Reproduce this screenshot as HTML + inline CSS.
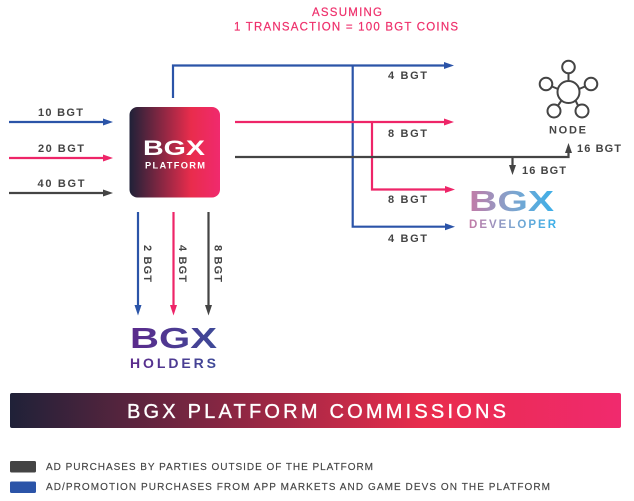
<!DOCTYPE html>
<html><head><meta charset="utf-8"><style>
html,body{margin:0;padding:0;background:#fff;width:634px;height:501px;overflow:hidden}
svg{display:block}
text{font-family:"Liberation Sans",sans-serif}
.l{font-size:11px;font-weight:bold;fill:#444}
.k{font-size:10px;fill:#444;stroke:#444;stroke-width:.15}
.t{font-size:11.5px;fill:#ee2f6b;stroke:#ee2f6b;stroke-width:.2}
</style></head><body>
<svg width="634" height="501" viewBox="0 0 634 501" xmlns="http://www.w3.org/2000/svg">
<defs>
<linearGradient id="g1" x1="0" x2="1" y1="0" y2="0"><stop offset="0" stop-color="#1f2138"/><stop offset="0.68" stop-color="#e92c4c"/><stop offset="1" stop-color="#f02a6e"/></linearGradient>
<linearGradient id="g2" gradientUnits="userSpaceOnUse" x1="469" x2="557" y1="0" y2="0"><stop offset="0" stop-color="#c47aa6"/><stop offset="0.5" stop-color="#7ea5cf"/><stop offset="1" stop-color="#38b0ea"/></linearGradient>
<linearGradient id="g3" gradientUnits="userSpaceOnUse" x1="130" x2="217" y1="0" y2="0"><stop offset="0" stop-color="#5c2a8c"/><stop offset="1" stop-color="#3e4a98"/></linearGradient>
</defs>

<text class="t" x="312" y="16" textLength="70">ASSUMING</text>
<text class="t" x="234" y="30.5" textLength="224">1 TRANSACTION = 100 BGT COINS</text>

<!-- left inputs -->
<g fill="none" stroke-width="2.2">
<path d="M9 122H104" stroke="#2b54a8"/>
<path d="M9 158H104" stroke="#ee2568"/>
<path d="M9 193H104" stroke="#444"/>
</g>
<path d="M103 118.500L113 122L103 125.500Z" fill="#2b54a8"/>
<path d="M103 154.500L113 158L103 161.500Z" fill="#ee2568"/>
<path d="M103 189.500L113 193L103 196.500Z" fill="#444"/>
<text class="l" x="38" y="116" textLength="45">10 BGT</text>
<text class="l" x="38" y="152" textLength="46">20 BGT</text>
<text class="l" x="37.500" y="187" textLength="47">40 BGT</text>

<!-- platform -->
<rect x="129.500" y="107" width="90.500" height="90.500" rx="8" fill="url(#g1)"/>
<text x="143" y="155" font-size="21" font-weight="bold" fill="#fff" textLength="62" lengthAdjust="spacingAndGlyphs">BGX</text>
<text x="145" y="168.300" font-size="9.300" font-weight="bold" fill="#fff" textLength="60">PLATFORM</text>

<!-- blue routes -->
<path d="M173 98V65.500H446M352.700 65.500V226.700H446" fill="none" stroke="#2b54a8" stroke-width="2.200"/>
<path d="M444 62L454 65.500L444 69Z" fill="#2b54a8"/>
<path d="M445 223.200L455 226.700L445 230.200Z" fill="#2b54a8"/>
<!-- pink routes -->
<path d="M235 122H446M372 122V189.500H446" fill="none" stroke="#ee2568" stroke-width="2.200"/>
<path d="M444 118.500L454 122L444 125.500Z" fill="#ee2568"/>
<path d="M445 186L455 189.500L445 193Z" fill="#ee2568"/>
<!-- dark routes -->
<path d="M235 157H568.500V150M512.500 157V168" fill="none" stroke="#444" stroke-width="2.200"/>
<path d="M565 153L568.500 143L572 153Z" fill="#444"/>
<path d="M509 165L512.500 175L516 165Z" fill="#444"/>

<text class="l" x="388" y="79" textLength="39">4 BGT</text>
<text class="l" x="388" y="137" textLength="39">8 BGT</text>
<text class="l" x="388" y="203" textLength="39">8 BGT</text>
<text class="l" x="388" y="242" textLength="39">4 BGT</text>
<text class="l" x="522" y="174" textLength="44">16 BGT</text>
<text class="l" x="577" y="152" textLength="44">16 BGT</text>

<!-- node -->
<g fill="none" stroke="#444" stroke-width="2">
<circle cx="568.500" cy="92" r="11"/>
<circle cx="568.500" cy="67" r="6.300"/>
<circle cx="546" cy="84" r="6.300"/>
<circle cx="591" cy="84" r="6.300"/>
<circle cx="554" cy="111" r="6.500"/>
<circle cx="582" cy="111" r="6.500"/>
<path d="M568.500 73.500V81M552 86.500L558 89M585 86.500L579 89M558 105.500L561.500 100.500M578 105.500L575.500 100.500"/>
</g>
<text class="l" x="549" y="133.500" textLength="37">NODE</text>

<!-- developer logo -->
<text x="469" y="211" font-size="29" font-weight="bold" fill="url(#g2)" textLength="85" lengthAdjust="spacingAndGlyphs">BGX</text>
<text x="469" y="228" font-size="11.500" font-weight="bold" fill="url(#g2)" textLength="87">DEVELOPER</text>

<!-- down arrows -->
<g fill="none" stroke-width="2.200">
<path d="M138 212V306" stroke="#2b54a8"/>
<path d="M173.500 212V306" stroke="#ee2568"/>
<path d="M208.500 212V306" stroke="#444"/>
</g>
<path d="M134.500 305L138 315.500L141.500 305Z" fill="#2b54a8"/>
<path d="M170 305L173.500 315.500L177 305Z" fill="#ee2568"/>
<path d="M205 305L208.500 315.500L212 305Z" fill="#444"/>
<text class="l" transform="translate(144,245) rotate(90)" textLength="37">2 BGT</text>
<text class="l" transform="translate(179,245) rotate(90)" textLength="37">4 BGT</text>
<text class="l" transform="translate(214.500,245) rotate(90)" textLength="37">8 BGT</text>

<!-- holders logo -->
<text x="130" y="348" font-size="29" font-weight="bold" fill="url(#g3)" textLength="87" lengthAdjust="spacingAndGlyphs">BGX</text>
<text x="130" y="368" font-size="14" font-weight="bold" fill="url(#g3)" textLength="86">HOLDERS</text>

<!-- banner -->
<rect x="10" y="393" width="611" height="35" rx="2" fill="url(#g1)"/>
<text x="127" y="418" font-size="20" fill="#fff" stroke="#fff" stroke-width=".35" textLength="379">BGX PLATFORM COMMISSIONS</text>

<!-- legend -->
<rect x="10" y="461" width="26" height="11.500" rx="1.500" fill="#444"/>
<rect x="10" y="481.500" width="26" height="11.500" rx="1.500" fill="#2b54a8"/>
<text class="k" x="46" y="470" textLength="327">AD PURCHASES BY PARTIES OUTSIDE OF THE PLATFORM</text>
<text class="k" x="46" y="490" textLength="504">AD/PROMOTION PURCHASES FROM APP MARKETS AND GAME DEVS ON THE PLATFORM</text>
</svg>
</body></html>
